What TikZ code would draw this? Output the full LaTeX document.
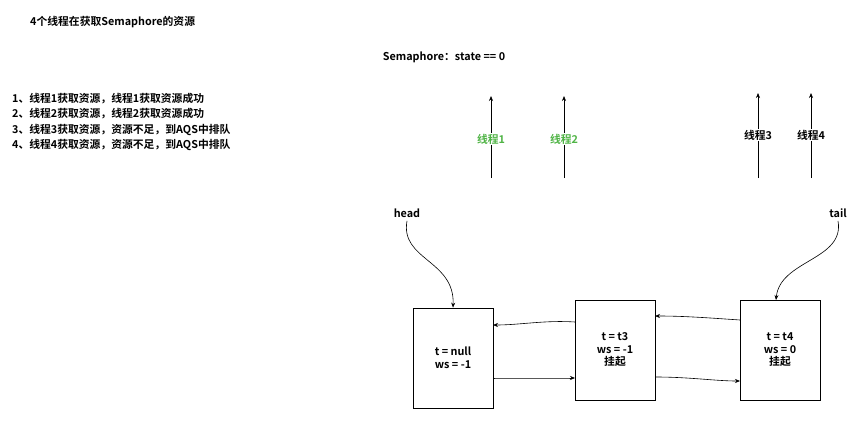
\documentclass[tikz,border=0pt]{standalone}
\usepackage{fontspec}
\setmainfont{Noto Sans CJK SC}[BoldFont={* Bold}]
\usetikzlibrary{arrows.meta}
\definecolor{grn}{RGB}{80,180,70}
\begin{document}
\begin{tikzpicture}[x=1pt,y=-1pt,font=\bfseries\fontsize{10.8}{12.5}\selectfont,
  box/.style={draw,line width=0.8pt,minimum width=80pt,minimum height=100pt,align=center,inner sep=0pt},
  ar/.style={-{Stealth[length=5pt,width=4pt]},line width=0.6pt},
  lab/.style={fill=white,inner sep=1pt}]
\useasboundingbox (0,0) rectangle (868,428);
\node[anchor=west,inner sep=0pt] (title) at (30,22) {4个线程在获取Semaphore的资源};
\node (sem) at (444,57) {Semaphore：state == 0};
\node[anchor=north west,align=left,inner sep=0pt,font=\bfseries\fontsize{10.8}{15.3}\selectfont] (list) at (12,93) {1、线程1获取资源，线程1获取资源成功\\2、线程2获取资源，线程2获取资源成功\\3、线程3获取资源，资源不足，到AQS中排队\\4、线程4获取资源，资源不足，到AQS中排队};
\foreach \n/\x/\y in {a/491/96,b/564/96,c/758/93,d/811/93}{
  \coordinate (\n0) at (\x,178); \coordinate (\n1) at (\x,\y);
  \draw[ar] (\n0) -- (\n1);
}
\node[lab,text=grn] (t1) at (491,139) {线程1};
\node[lab,text=grn] (t2) at (564,139) {线程2};
\node[lab] (t3) at (758,135) {线程3};
\node[lab] (t4) at (811,135) {线程4};
\node (head) at (407,213) {head};
\node (tail) at (838,213) {tail};
\node[box] (b1) at (453,358) {t = null\\ws = -1};
\node[box] (b2) at (615,350) {t = t3\\ws = -1\\挂起};
\node[box] (b3) at (780,350) {t = t4\\ws = 0\\挂起};
\draw[ar] (head.south) .. controls (400,260) and (455,260) .. (b1.north);
\draw[ar] (tail.south) .. controls (845,260) and (780,260) .. (776,300);
\draw[ar] (575,322) .. controls (545,320) and (520,325) .. (493,325);
\draw[ar] (493,378) .. controls (525,378) and (550,378) .. (575,378);
\draw[ar] (740,320) .. controls (710,318) and (685,316) .. (655,316);
\draw[ar] (655,377) .. controls (690,377) and (715,381) .. (740,381);
\end{tikzpicture}
\end{document}
